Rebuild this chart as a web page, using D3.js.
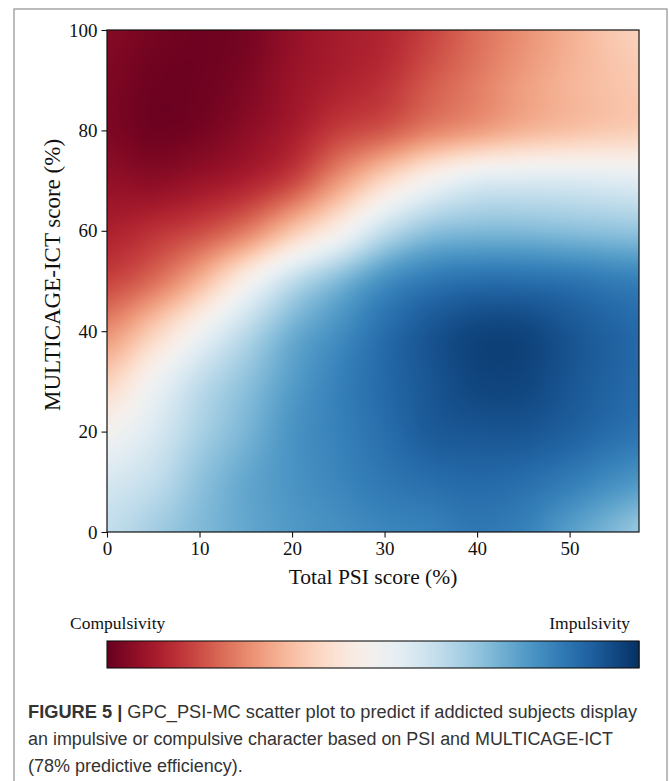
<!DOCTYPE html>
<html>
<head>
<meta charset="utf-8">
<script src="https://cdn.jsdelivr.net/npm/d3@7"></script>
<style>
  html, body { margin: 0; padding: 0; background: #fff; }
  svg { display: block; }
</style>
</head>
<body>
<svg id="fig" width="669" height="781"></svg>
<script>
// grid nodes of the score map (x = Total PSI %, y = MULTICAGE-ICT %)
const xGrid = [0, 5, 10, 15, 20, 25, 30, 35, 40, 45, 50, 55, 60]
const yGrid = [0, 10, 20, 30, 40, 50, 60, 70, 80, 90, 100]

// colour position on RdBu (0 = compulsive red, 1 = impulsive blue), one row per y node
const row0   = [0.62, 0.67, 0.72, 0.76, 0.79, 0.81, 0.83, 0.84, 0.86, 0.84, 0.78, 0.72, 0.66]
const row10  = [0.58, 0.62, 0.70, 0.76, 0.80, 0.83, 0.86, 0.88, 0.89, 0.88, 0.85, 0.81, 0.78]
const row20  = [0.50, 0.57, 0.66, 0.73, 0.80, 0.84, 0.88, 0.92, 0.93, 0.93, 0.91, 0.88, 0.86]
const row30  = [0.39, 0.51, 0.62, 0.70, 0.78, 0.84, 0.89, 0.93, 0.96, 0.96, 0.93, 0.90, 0.88]
const row40  = [0.27, 0.38, 0.51, 0.63, 0.74, 0.81, 0.88, 0.93, 0.96, 0.96, 0.93, 0.90, 0.88]
const row50  = [0.16, 0.22, 0.33, 0.48, 0.62, 0.72, 0.81, 0.86, 0.88, 0.88, 0.87, 0.85, 0.84]
const row60  = [0.10, 0.13, 0.17, 0.24, 0.36, 0.48, 0.62, 0.70, 0.72, 0.72, 0.71, 0.70, 0.69]
const row70  = [0.06, 0.05, 0.07, 0.10, 0.16, 0.28, 0.40, 0.50, 0.56, 0.57, 0.57, 0.56, 0.55]
const row80  = [0.03, 0.01, 0.02, 0.05, 0.09, 0.15, 0.19, 0.25, 0.29, 0.33, 0.355, 0.375, 0.385]
const row90  = [0.03, 0.01, 0.01, 0.03, 0.07, 0.10, 0.13, 0.19, 0.24, 0.29, 0.33, 0.36, 0.38]
const row100 = [0.04, 0.02, 0.01, 0.02, 0.06, 0.09, 0.11, 0.16, 0.22, 0.27, 0.32, 0.37, 0.40]
const field = [row0, row10, row20, row30, row40, row50, row60, row70, row80, row90, row100]

const xTicks = [0, 10, 20, 30, 40, 50]
const yTicks = [0, 20, 40, 60, 80, 100]
const xMax = 57.5

const xLabel = "Total PSI score (%)"
const yLabel = "MULTICAGE-ICT score (%)"
const lowLabel = "Compulsivity"
const highLabel = "Impulsivity"
const captionHead = "FIGURE 5 |"
const captionLines = [
  " GPC_PSI-MC scatter plot to predict if addicted subjects display",
  "an impulsive or compulsive character based on PSI and MULTICAGE-ICT",
  "(78% predictive efficiency)."
]

const serif = "'Liberation Serif', 'Times New Roman', serif"
const sans = "'Liberation Sans', Arial, sans-serif"

const svg = d3.select("#fig")
const margin = {left: 107, top: 30, right: 639, bottom: 532}

const x = d3.scaleLinear().domain([0, xMax]).range([margin.left, margin.right])
const y = d3.scaleLinear().domain([0, 100]).range([margin.bottom, margin.top])
const color = t => d3.interpolateRdBu(Math.max(0, Math.min(1, t)))

// outer figure frame
svg.append("rect")
    .attr("x", 14).attr("y", 9)
    .attr("width", 653).attr("height", 820)
    .attr("fill", "none")
    .attr("stroke", "#999")
    .attr("stroke-width", 1.3)

// smooth cubic lookup between grid nodes
function cubic(v, u) {
  const n = v.length
  u = Math.max(0, Math.min(n - 1, u))
  const i = Math.min(Math.floor(u), n - 2)
  const f = u - i
  const p0 = v[Math.max(i - 1, 0)], p1 = v[i], p2 = v[i + 1], p3 = v[Math.min(i + 2, n - 1)]
  return 0.5 * ((2 * p1) + (-p0 + p2) * f + (2 * p0 - 5 * p1 + 4 * p2 - p3) * f * f + (-p0 + 3 * p1 - 3 * p2 + p3) * f * f * f)
}

// paint the map
const w = margin.right - margin.left, h = margin.bottom - margin.top
const canvas = document.createElement("canvas")
canvas.width = w; canvas.height = h
const ctx = canvas.getContext("2d")
const img = ctx.createImageData(w, h)
const gx = d3.scaleLinear().domain(d3.extent(xGrid)).range([0, xGrid.length - 1])
const gy = d3.scaleLinear().domain(d3.extent(yGrid)).range([0, yGrid.length - 1])
for (let px = 0; px < w; px++) {
  const ux = gx(x.invert(margin.left + px + 0.5))
  const col = field.map(r => cubic(r, ux))
  for (let py = 0; py < h; py++) {
    const uy = gy(y.invert(margin.top + py + 0.5))
    const c = d3.rgb(color(cubic(col, uy)))
    const k = (py * w + px) * 4
    img.data[k] = c.r; img.data[k + 1] = c.g; img.data[k + 2] = c.b; img.data[k + 3] = 255
  }
}
ctx.putImageData(img, 0, 0)
svg.append("image")
    .attr("x", margin.left).attr("y", margin.top)
    .attr("width", w).attr("height", h)
    .attr("preserveAspectRatio", "none")
    .attr("href", canvas.toDataURL())

svg.append("rect")
    .attr("x", margin.left).attr("y", margin.top)
    .attr("width", w).attr("height", h)
    .attr("fill", "none").attr("stroke", "#111").attr("stroke-width", 1.2)

// axes
const gX = svg.append("g")
    .attr("transform", `translate(0,${margin.bottom})`)
    .call(d3.axisBottom(x).tickValues(xTicks).tickSize(5.5).tickPadding(4).tickFormat(d3.format("d")))
const gY = svg.append("g")
    .attr("transform", `translate(${margin.left},0)`)
    .call(d3.axisLeft(y).tickValues(yTicks).tickSize(5.5).tickPadding(4).tickFormat(d3.format("d")))
;[gX, gY].forEach(g => {
  g.select(".domain").remove()
  g.selectAll(".tick line").attr("stroke", "#111").attr("stroke-width", 1.1)
  g.selectAll(".tick text").attr("fill", "#111")
      .style("font-family", serif).style("font-size", "19px")
})

svg.append("text")
    .attr("x", (margin.left + margin.right) / 2).attr("y", 584)
    .attr("text-anchor", "middle")
    .style("font-family", serif).style("font-size", "21.5px").attr("fill", "#111")
    .text(xLabel)

svg.append("text")
    .attr("transform", `translate(60,275) rotate(-90)`)
    .attr("text-anchor", "middle")
    .style("font-family", serif).style("font-size", "23px").attr("fill", "#111")
    .text(yLabel)

// colour bar
const cb = {x0: 107, x1: 639, y0: 641, y1: 668}
const cbScale = d3.scaleLinear().domain([0, 1]).range([cb.x0, cb.x1])
const steps = d3.range(0, 1, 1 / 266)
svg.append("g").selectAll("rect")
  .data(steps)
  .join("rect")
    .attr("x", d => cbScale(d))
    .attr("y", cb.y0)
    .attr("width", (cb.x1 - cb.x0) / steps.length + 0.6)
    .attr("height", cb.y1 - cb.y0)
    .attr("fill", d => color(d + 0.5 / steps.length))
svg.append("rect")
    .attr("x", cb.x0).attr("y", cb.y0)
    .attr("width", cb.x1 - cb.x0).attr("height", cb.y1 - cb.y0)
    .attr("fill", "none").attr("stroke", "#111").attr("stroke-width", 1.1)

svg.append("text")
    .attr("x", 70).attr("y", 629)
    .style("font-family", serif).style("font-size", "17.5px").attr("fill", "#111")
    .text(lowLabel)
svg.append("text")
    .attr("x", 630).attr("y", 629).attr("text-anchor", "end")
    .style("font-family", serif).style("font-size", "17.5px").attr("fill", "#111")
    .text(highLabel)

// caption
const cap = svg.append("g")
    .style("font-family", sans).style("font-size", "18px").attr("fill", "#333")
const first = cap.append("text").attr("x", 28).attr("y", 718)
    .attr("textLength", 609).attr("lengthAdjust", "spacingAndGlyphs")
first.append("tspan").style("font-weight", "bold").text(captionHead)
first.append("tspan").text(captionLines[0])
cap.append("text").attr("x", 28).attr("y", 745)
    .attr("textLength", 585).attr("lengthAdjust", "spacingAndGlyphs")
    .text(captionLines[1])
cap.append("text").attr("x", 28).attr("y", 772).text(captionLines[2])
</script>
</body>
</html>
